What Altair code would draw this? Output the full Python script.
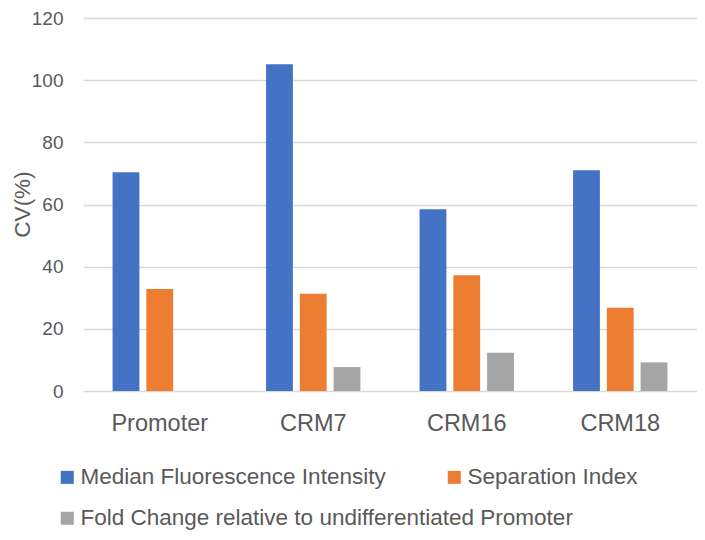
import altair as alt
import pandas as pd

categories = ["Promoter", "CRM7", "CRM16", "CRM18"]
series_names = [
    "Median Fluorescence Intensity",
    "Separation Index",
    "Fold Change relative to undifferentiated Promoter",
]
mfi = [70.4, 105.1, 58.5, 71.0]
sep = [32.8, 31.3, 37.2, 26.8]
fold = [None, 7.7, 12.3, 9.2]
colors = ["#4472C4", "#ED7D31", "#A5A5A5"]
y_ticks = [0, 20, 40, 60, 80, 100, 120]

rows = []
for s, vals in zip(series_names, [mfi, sep, fold]):
    for c, v in zip(categories, vals):
        if v is not None:
            rows.append({"category": c, "series": s, "value": v})
df = pd.DataFrame(rows)
df_fold = df[df["series"] == series_names[2]]

FONT = "Liberation Sans"
TXT = "#595959"

x_enc = alt.X(
    "category:N",
    sort=categories,
    scale=alt.Scale(domain=categories, paddingInner=0.34, paddingOuter=0.17),
    axis=alt.Axis(
        title=None, labelAngle=0, labelFont=FONT, labelFontSize=23.5,
        labelColor=TXT, labelPadding=20, ticks=False, domain=False,
    ),
)
xoff_enc = alt.XOffset(
    "series:N",
    sort=series_names,
    scale=alt.Scale(domain=series_names, paddingInner=0.206, paddingOuter=0.103),
)
y_enc = alt.Y(
    "value:Q",
    scale=alt.Scale(domain=[0, 120]),
    axis=alt.Axis(
        values=y_ticks, title="CV(%)", titleFont=FONT, titleFontSize=22.5,
        titleFontWeight="normal", titleColor=TXT, titleX=-49, titleY=186,
        titleAngle=270, titleBaseline="bottom", titleAlign="center",
        labelFont=FONT, labelFontSize=19, labelColor=TXT, labelPadding=20,
        ticks=False, domain=False, grid=True, gridColor="#D9D9D9", gridWidth=1.5,
    ),
)

legend_common = dict(
    title=None, orient="none", legendX=-27, direction="horizontal",
    columnPadding=57, symbolType="square", symbolSize=169,
    symbolStrokeWidth=0, labelOffset=2, labelLimit=700, labelFont=FONT,
    labelFontSize=22.5, labelColor=TXT,
)

bars = alt.Chart(df).mark_bar().encode(
    x=x_enc,
    xOffset=xoff_enc,
    y=y_enc,
    color=alt.Color(
        "series:N",
        scale=alt.Scale(domain=series_names, range=colors),
        legend=alt.Legend(values=series_names[:2], legendY=448, **legend_common),
    ),
)

fold_key = alt.Chart(df_fold).mark_point(filled=True, opacity=0, shape="square").encode(
    x=x_enc,
    xOffset=xoff_enc,
    y=y_enc,
    fill=alt.Fill(
        "series:N",
        scale=alt.Scale(domain=[series_names[2]], range=[colors[2]]),
        legend=alt.Legend(
            legendY=489, symbolOpacity=1, symbolFillColor=colors[2], **legend_common
        ),
    ),
)

chart = alt.layer(bars, fold_key).properties(
    width=614,
    height=373,
    autosize="none",
    padding={"left": 75, "top": 10, "right": 0, "bottom": 141},
).configure_view(stroke=None)

chart.save("out.html", embed_options={"renderer": "svg", "actions": False})
